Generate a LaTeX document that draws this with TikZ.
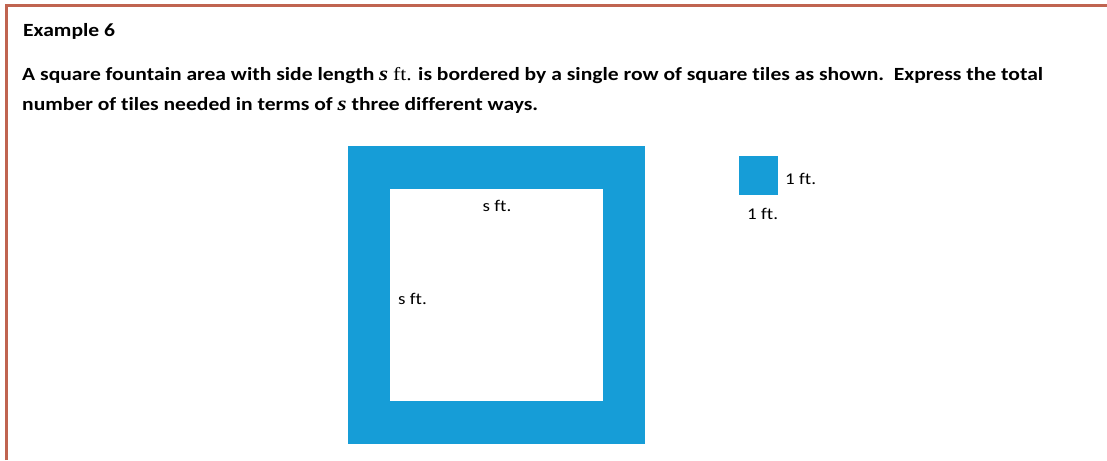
\documentclass[tikz,border=0pt]{standalone}
\usepackage{fontspec}
\setmainfont[Ligatures=NoCommon]{Carlito}
\newfontfamily\cambriaish{Liberation Serif}
\definecolor{framered}{RGB}{192,100,80}
\definecolor{tileblue}{RGB}{22,157,215}
\newcommand{\wide}[1]{\scalebox{1.16}[1]{#1}}
\tikzset{
  heading/.style={anchor=base west, inner sep=0pt, font=\bfseries\fontsize{18.6}{22}\selectfont},
  label/.style={inner sep=0pt, font=\fontsize{16.4}{19}\selectfont}
}
\begin{document}
\begin{tikzpicture}[x=1pt,y=-1pt]
\useasboundingbox (0,0) rectangle (1107,460);
% frame
\draw[framered, line width=3pt] (6,460) -- (6,6) -- (1107,6);
% texts
\node[heading] (title) at (23,37) {\wide{Example 6}};
\node[heading] (l1) at (22,81) {\wide{A square fountain area with side length {\cambriaish\itshape\fontsize{20}{22}\selectfont s} {\cambriaish\mdseries ft.} is bordered by a single row of square tiles as shown.\ \ Express the total}};
\node[heading] (l2) at (22,110) {\wide{number of tiles needed in terms of {\cambriaish\itshape\fontsize{20}{22}\selectfont s} three different ways.}};
% fountain
\fill[tileblue] (348,146) rectangle (645,444);
\fill[white] (390,189) rectangle (603,401);
\node[label, anchor=base] (top) at (497,211) {\wide{s ft.}};
\node[label, anchor=base west] (left) at (398,304) {\wide{s ft.}};
% single tile
\fill[tileblue] (739,156) rectangle (778,195);
\node[label, anchor=base west] (r) at (785,184) {\wide{1 ft.}};
\node[label, anchor=base west] (b) at (747,219) {\wide{1 ft.}};
\end{tikzpicture}
\end{document}
